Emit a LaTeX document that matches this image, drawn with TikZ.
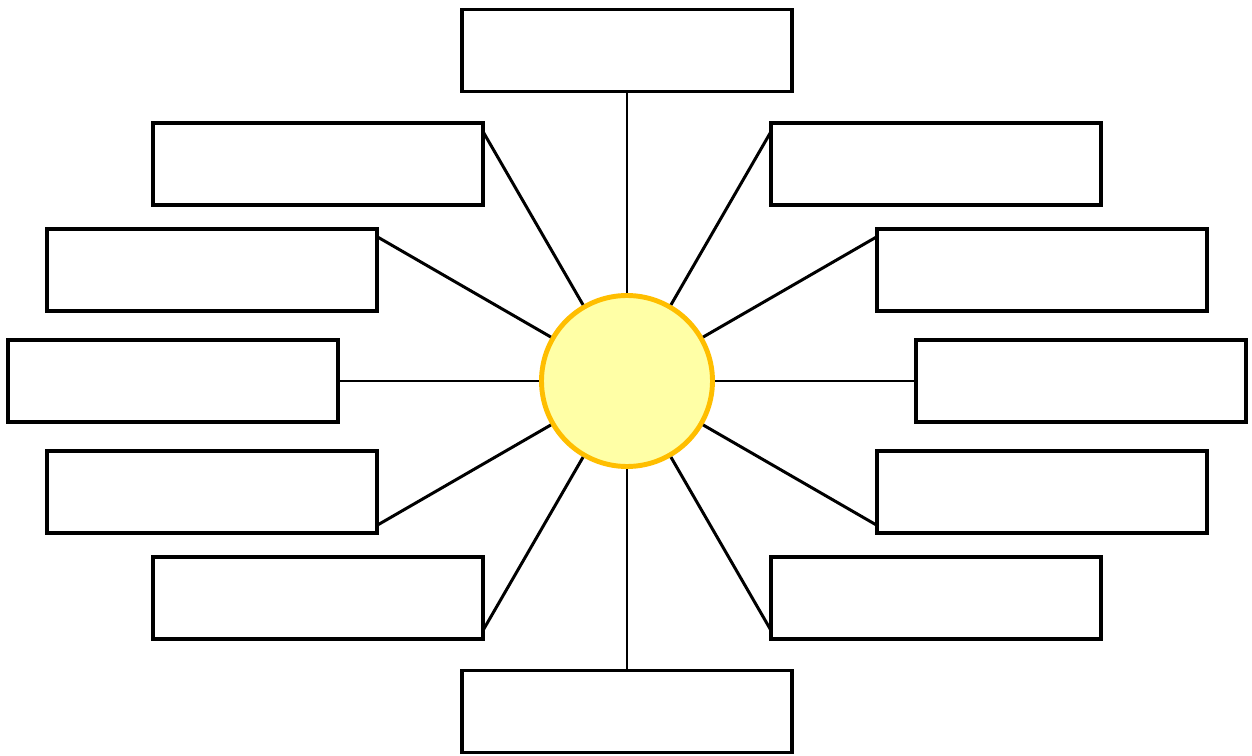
\documentclass[tikz,border=0pt]{standalone}
\usepackage{tikz}
\usetikzlibrary{positioning}
\definecolor{SunFill}{RGB}{255,255,166}
\definecolor{SunRim}{RGB}{255,190,0}

\begin{document}
\begin{tikzpicture}[
  box/.style={draw=black,fill=white,line width=2pt,minimum width=6.6cm,minimum height=1.64cm,inner sep=0pt},
  spoke/.style={draw=black,line width=1.7pt}]
  \useasboundingbox (-12.54,-7.48) rectangle (12.50,7.62);
  \node[box] (top) at (0,6.61) {};
  \node[box] (bottom) at (0,-6.61) {};
  \node[box] (leftA) at (-6.18,4.34) {};
  \node[box] (rightA) at (6.18,4.34) {};
  \node[box] (leftB) at (-8.30,2.22) {};
  \node[box] (rightB) at (8.30,2.22) {};
  \node[box] (leftC) at (-9.08,0) {};
  \node[box] (rightC) at (9.08,0) {};
  \node[box] (leftD) at (-8.30,-2.22) {};
  \node[box] (rightD) at (8.30,-2.22) {};
  \node[box] (leftE) at (-6.18,-4.34) {};
  \node[box] (rightE) at (6.18,-4.34) {};
  \node[circle,draw=SunRim,fill=SunFill,line width=2.8pt,minimum size=3.42cm] (sun) at (0,0) {};
  \foreach \a in {0,30,...,330}
    \coordinate (ray\a) at (\a:5.78);
  \foreach \a in {0,30,...,330}
    \draw[spoke] (sun) -- (ray\a);
\end{tikzpicture}
\end{document}
